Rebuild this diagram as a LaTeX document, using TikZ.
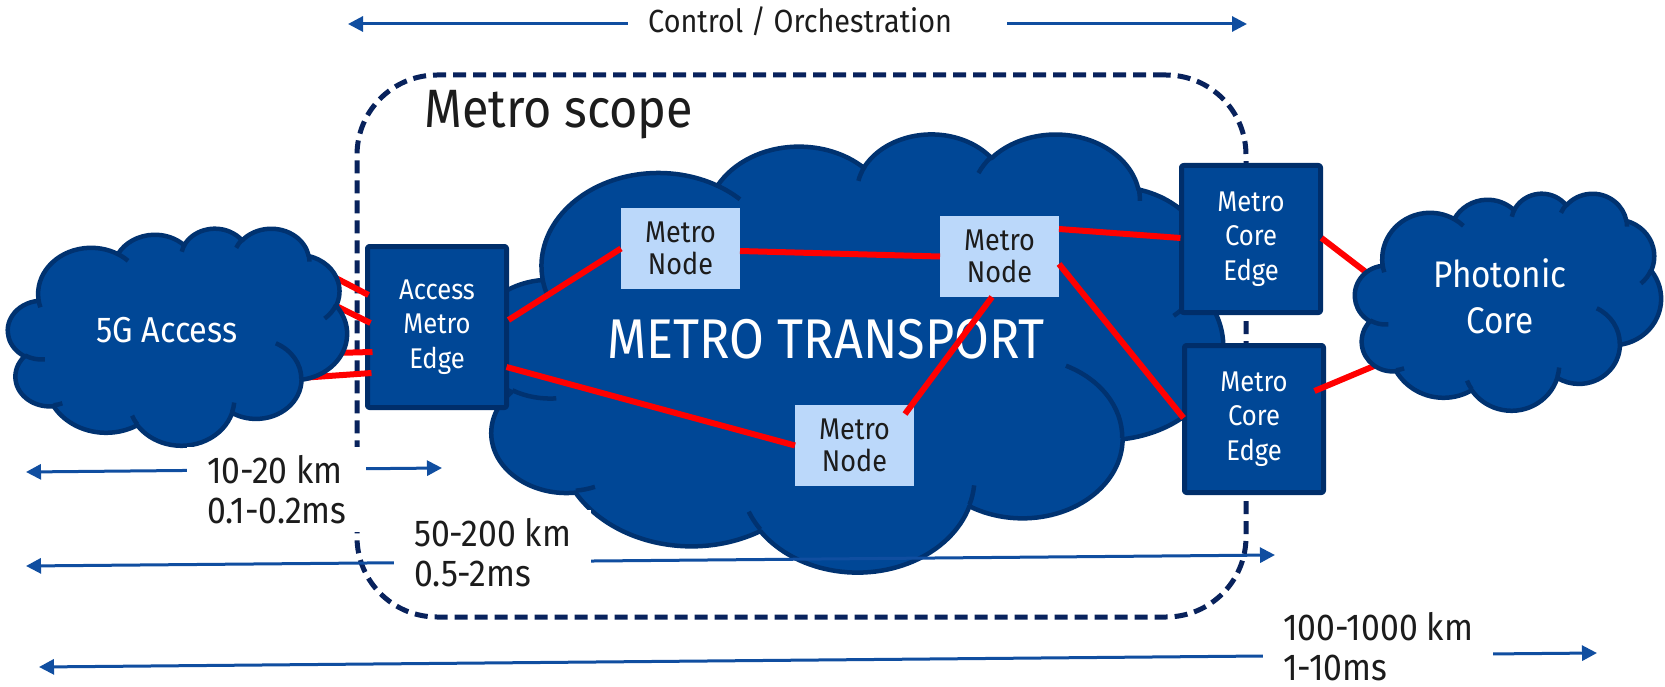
\documentclass[tikz,border=0pt]{standalone}
\usepackage{fontspec}
\setmainfont[FakeStretch=0.9]{Fira Sans}
\usetikzlibrary{arrows.meta,calc}

\definecolor{cfill}{RGB}{0,71,150}
\definecolor{cline}{RGB}{0,50,112}
\definecolor{bfill}{RGB}{0,71,150}
\definecolor{bline}{RGB}{0,46,106}
\definecolor{nfill}{RGB}{187,216,250}
\definecolor{arrblue}{RGB}{16,78,160}
\definecolor{scopeline}{RGB}{8,34,92}
\definecolor{txt}{RGB}{28,28,28}
\definecolor{redl}{RGB}{255,0,0}

% OOXML-style arc: convert visual angles to parametric ones
\newcommand\ooang[5]{%
  \pgfmathsetmacro\ootmpS{atan2((#2)*sin(#4),(#3)*cos(#4))}%
  \pgfmathsetmacro\ootmpE{atan2((#2)*sin((#4)+(#5)),(#3)*cos((#4)+(#5)))}%
  \pgfmathsetmacro\ootmpE{\ootmpS+mod(\ootmpE-\ootmpS+720,360)}%
  \expandafter\xdef\csname oo#1s\endcsname{\ootmpS}%
  \expandafter\xdef\csname oo#1e\endcsname{\ootmpE}%
}
\ooang{A}{6.753}{9.19}{-190.487483}{123.780533}
\ooang{B}{5.333}{7.267}{-144.102383}{89.945233}
\ooang{C}{4.365}{5.945}{-145.807917}{99.723017}
\ooang{D}{4.857}{6.595}{-130.986067}{117.241733}
\ooang{E}{5.333}{7.273}{-78.708883}{109.026917}
\ooang{F}{6.775}{9.22}{-46.26725}{130.269}
\ooang{G}{5.785}{7.867}{0.625017}{114.033333}
\ooang{H}{6.752}{9.215}{22.4516}{115.17255}
\ooang{I}{7.72}{10.543}{66.242633}{75.711017}
\ooang{J}{4.36}{5.918}{-274.942083}{146.735567}
\ooang{K}{4.345}{5.945}{-246.8285}{152.51885}
\ooang{ia}{4.345}{5.945}{86.742}{26.4295}
\ooang{ib}{4.36}{5.918}{73.610467}{11.447467}
\ooang{ic}{6.752}{9.215}{137.62415}{14.0811}
\ooang{id}{6.752}{9.215}{6.453267}{15.99835}
\ooang{ie}{5.785}{7.867}{-70.29235}{70.917367}
\ooang{if}{5.333}{7.273}{30.318033}{27.7515}
\ooang{ig}{4.857}{6.595}{-13.744333}{14.8589}
\ooang{ih}{4.857}{6.595}{-149.18145}{18.195367}
\ooang{ii}{4.365}{5.945}{-163.494267}{17.68635}
\ooang{ij}{6.753}{9.19}{-66.70695}{12.31935}
\ooang{ik}{6.753}{9.19}{157.65435}{11.858167}

\def\oooutline{(3.9,14.37)
 arc[start angle=\ooAs,end angle=\ooAe,x radius=6.753,y radius=9.19]
 arc[start angle=\ooBs,end angle=\ooBe,x radius=5.333,y radius=7.267]
 arc[start angle=\ooCs,end angle=\ooCe,x radius=4.365,y radius=5.945]
 arc[start angle=\ooDs,end angle=\ooDe,x radius=4.857,y radius=6.595]
 arc[start angle=\ooEs,end angle=\ooEe,x radius=5.333,y radius=7.273]
 arc[start angle=\ooFs,end angle=\ooFe,x radius=6.775,y radius=9.22]
 arc[start angle=\ooGs,end angle=\ooGe,x radius=5.785,y radius=7.867]
 arc[start angle=\ooHs,end angle=\ooHe,x radius=6.752,y radius=9.215]
 arc[start angle=\ooIs,end angle=\ooIe,x radius=7.72,y radius=10.543]
 arc[start angle=\ooJs,end angle=\ooJe,x radius=4.36,y radius=5.918]
 arc[start angle=\ooKs,end angle=\ooKe,x radius=4.345,y radius=5.945] -- cycle}
\def\ooinner{(4.693,26.177) arc[start angle=\ooias,end angle=\ooiae,x radius=4.345,y radius=5.945]
 (6.928,34.899) arc[start angle=\ooibs,end angle=\ooibe,x radius=4.36,y radius=5.918]
 (16.478,39.09) arc[start angle=\ooics,end angle=\ooice,x radius=6.752,y radius=9.215]
 (28.827,34.751) arc[start angle=\ooids,end angle=\ooide,x radius=6.752,y radius=9.215]
 (34.129,22.954) arc[start angle=\ooies,end angle=\ooiee,x radius=5.785,y radius=7.867]
 (41.798,15.354) arc[start angle=\ooifs,end angle=\ooife,x radius=5.333,y radius=7.273]
 (38.324,5.426) arc[start angle=\ooigs,end angle=\ooige,x radius=4.857,y radius=6.595]
 (29.078,3.952) arc[start angle=\ooihs,end angle=\ooihe,x radius=4.857,y radius=6.595]
 (22.141,4.72) arc[start angle=\ooiis,end angle=\ooiie,x radius=4.365,y radius=5.945]
 (14.0,5.192) arc[start angle=\ooijs,end angle=\ooije,x radius=6.753,y radius=9.19]
 (4.127,15.789) arc[start angle=\ooiks,end angle=\ooike,x radius=6.753,y radius=9.19]}

\newcommand\ppcloud[3]{%
  \begin{scope}[shift={(#1.north west)}, xscale=#2/43.2, yscale=#3/43.2]
    \filldraw[cloudst] \oooutline;
    \draw[cloudin] \ooinner;
  \end{scope}}

\tikzset{
  ebox/.style={fill=bfill, draw=bline, line width=5pt, rounded corners=2pt, text=white,
    align=center, inner sep=0pt, outer sep=0pt, minimum width=139pt, minimum height=147pt,
    font=\fontsize{28.5}{34.5}\selectfont},
  mnode/.style={fill=nfill, text=txt, align=center, inner sep=0pt, outer sep=0pt,
    minimum width=119pt, minimum height=81pt, font=\fontsize{30}{32}\selectfont},
  cloudbox/.style={inner sep=0pt, outer sep=0pt},
  cloudst/.style={fill=cfill, draw=cline, line width=4.5pt},
  cloudin/.style={draw=cline, line width=4.5pt},
  cloudtxt/.style={text=white, align=center, inner sep=0pt},
  redlink/.style={draw=redl, line width=6pt},
  arr/.style={draw=arrblue, line width=3pt, {Triangle[length=15pt,width=15pt]}-{Triangle[length=15pt,width=15pt]}},
  lbl/.style={fill=white, text=txt, align=left, inner xsep=20pt, inner ysep=8pt,
    font=\fontsize{37.5}{40}\selectfont},
  scopebox/.style={draw=scopeline, line width=5pt, dash pattern=on 13pt off 7pt,
    rounded corners=80pt, inner sep=0pt, outer sep=0pt, minimum width=889pt, minimum height=542pt},
}

\begin{document}
\begin{tikzpicture}[x=1pt, y=-1pt, line join=round]
\useasboundingbox[fill=white] (0,0) rectangle (1665,687);

% metro scope
\node[scopebox] (mscope) at (801.5,346) {};
\node[anchor=base west, text=txt, inner sep=0pt, font=\fontsize{54}{60}\selectfont] (scopetitle) at (424,128) {Metro scope};

% metro transport cloud
\node[cloudbox, minimum width=748pt, minimum height=438pt] (metro) at (849,352) {};
\ppcloud{metro}{748}{438}
\node[cloudtxt, anchor=base, font=\fontsize{56}{60}\selectfont] (metrotxt) at (826,358) {METRO TRANSPORT};

% edge boxes
\node[ebox, minimum height=161pt] (ame) at (437,327) {Access\\Metro\\Edge};
\node[ebox] (mce1) at (1251,239) {Metro\\Core\\Edge};
\node[ebox] (mce2) at (1254,419) {Metro\\Core\\Edge};

% metro nodes
\node[mnode] (mn1) at (680.5,248.5) {Metro\\Node};
\node[mnode] (mn2) at (999.5,256.5) {Metro\\Node};
\node[mnode] (mn3) at (854.5,445.5) {Metro\\Node};

% side clouds (named areas)
\node[cloudbox, minimum width=339pt, minimum height=217pt] (g5) at (177.5,336.5) {};
\node[cloudbox, minimum width=306pt, minimum height=217pt] (phot) at (1508,301.5) {};

% red links
\draw[redlink] ($(g5.east)+(-17,-61.5)$) -- ($(ame.west)+(1,-32)$);
\draw[redlink] ($(g5.east)+(-17,-33.5)$) -- ($(ame.west)+(3,-4)$);
\draw[redlink] ($(g5.east)+(-14,16.5)$) -- ($(ame.west)+(5,25)$);
\draw[redlink] ($(g5.east)+(-47,41.5)$) -- ($(ame.west)+(4,46)$);
\draw[redlink] ($(ame.east)+(2,-7)$) -- (mn1.west);
\draw[redlink] ($(ame.east)+(0,40)$) -- (mn3.west);
\draw[redlink] ($(mn1.east)+(0,2.5)$) -- (mn2.west);
\draw[redlink] ($(mn2.south)+(-7.5,0)$) -- ($(mn3.north east)+(-9,9)$);
\draw[redlink] ($(mn2.east)+(0,-27.5)$) -- ($(mce1.west)+(-1,-1)$);
\draw[redlink] ($(mn2.east)+(0,7.5)$) -- ($(mce2.west)+(-1,-1)$);
\draw[redlink] ($(mce1.east)+(1,-1)$) -- ($(phot.west)+(16,-25.5)$);
\draw[redlink] ($(mce2.east)+(-9,-28)$) -- ($(phot.west)+(31,59.5)$);

% side clouds
\ppcloud{g5}{339}{217}
\node[cloudtxt, font=\fontsize{36}{40}\selectfont] (g5txt) at (167,330) {5G Access};
\ppcloud{phot}{306}{217}
\node[cloudtxt, font=\fontsize{37}{46}\selectfont] (phottxt) at (1500,296) {Photonic\\Core};

% distance arrows
\coordinate (cL) at (348,24);  \coordinate (cR) at (1247,24);
\coordinate (aL) at (26,472);  \coordinate (aR) at (442,468);
\coordinate (bL) at (26,566);  \coordinate (bR) at (1275,555);
\coordinate (dL) at (39,667);  \coordinate (dR) at (1597,653);
\draw[arr] (cL) -- (cR);
\draw[arr] (aL) -- (aR);
\draw[arr] (bL) -- (bR);
\draw[arr] (dL) -- (dR);

\node[lbl, anchor=base west, inner xsep=0pt, font=\fontsize{32}{38}\selectfont] (lc) at (628,33) {\hspace{20pt}Control / Orchestration\hspace{55pt}};
\node[lbl, anchor=north west] (la) at (187,447) {10-20 km\\0.1-0.2ms};
\node[lbl, anchor=north west] (lb) at (394,510) {50-200 km\\0.5-2ms};
\node[lbl, anchor=north west, inner ysep=2pt] (ld) at (1263,610) {100-1000 km\\1-10ms};
\end{tikzpicture}
\end{document}
